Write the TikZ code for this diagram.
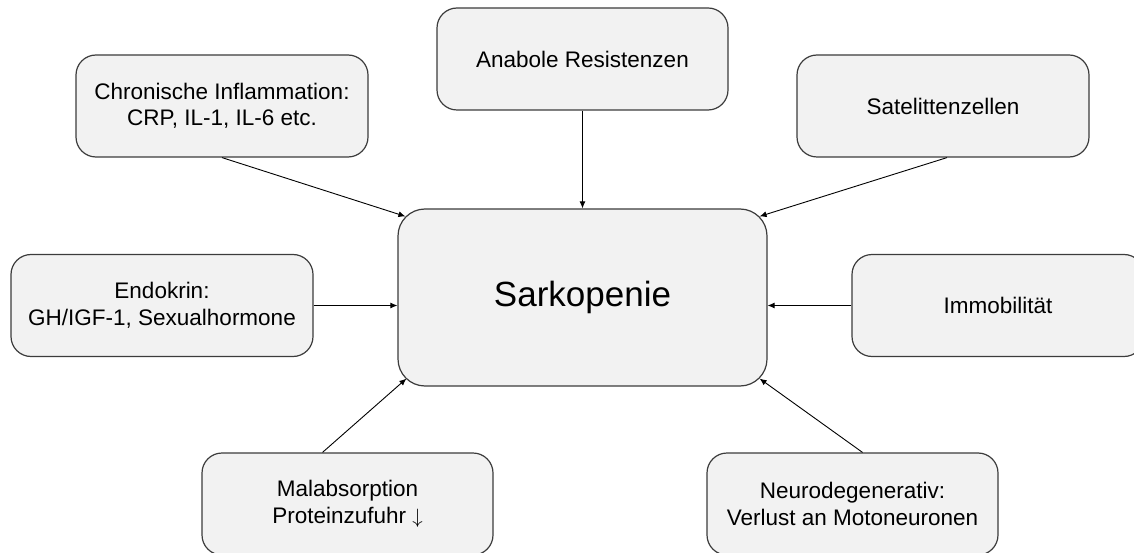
\documentclass[tikz,border=0pt]{standalone}
\usepackage{fontspec}
\setmainfont{Liberation Sans}
\usepackage{tikz}
\usetikzlibrary{calc,arrows.meta}

\definecolor{boxfill}{HTML}{F2F2F2}
\definecolor{boxline}{HTML}{3C3C3C}

\tikzset{
  ursache/.style={draw=boxline, line width=1.2pt, fill=boxfill, rounded corners=20pt,
    minimum width=292pt, minimum height=102pt, inner sep=0pt, align=center,
    font=\fontsize{22.5}{26.5}\selectfont},
  pfeil/.style={-{Latex[length=7pt,width=6pt]}, line width=0.9pt, black},
}

\begin{document}
\begin{tikzpicture}[x=1pt,y=-1pt]
    \useasboundingbox (0,0) rectangle (1134,553);
    % Mitte
    \node[ursache, minimum width=369pt, minimum height=177pt, rounded corners=27pt,
          font=\fontsize{35}{40}\selectfont] (sark) at (582.5,297.5) {Sarkopenie};
    % Ursachen
    \node[ursache] (chron) at (222,106) {Chronische Inflammation:\\CRP, IL-1, IL-6 etc.};
    \node[ursache, minimum width=291pt] (anab) at (582.5,59) {Anabole Resistenzen};
    \node[ursache] (sat) at (943,106) {Satelittenzellen};
    \node[ursache, minimum width=302pt] (endo) at (162,305.5) {Endokrin:\\GH/IGF-1, Sexualhormone};
    \node[ursache] (immo) at (998,305.5) {Immobilität};
    \node[ursache, minimum width=291pt] (mal) at (347.5,504) {Malabsorption\\Proteinzufuhr $\downarrow$};
    \node[ursache, minimum width=291pt] (neuro) at (852.5,504) {Neurodegenerativ:\\Verlust an Motoneuronen};
    % Ecken
    \coordinate (sarkNW) at ([shift={(8,8)}]sark.north west);
    \coordinate (sarkNE) at ([shift={(-8,8)}]sark.north east);
    \coordinate (sarkSW) at ([shift={(9,-8)}]sark.south west);
    \coordinate (sarkSE) at ([shift={(-8,-8)}]sark.south east);
    % Pfeile
    \draw[pfeil] (chron.south) -- (sarkNW);
    \draw[pfeil] (anab.south) -- (sark.north);
    \draw[pfeil] ([xshift=4pt]sat.south) -- (sarkNE);
    \draw[pfeil] (endo.east) -- (endo.east -| sark.west);
    \draw[pfeil] (immo.west) -- (immo.west -| sark.east);
    \draw[pfeil] ([xshift=-25pt]mal.north) -- (sarkSW);
    \draw[pfeil] ([xshift=10pt]neuro.north) -- (sarkSE);
\end{tikzpicture}
\end{document}
